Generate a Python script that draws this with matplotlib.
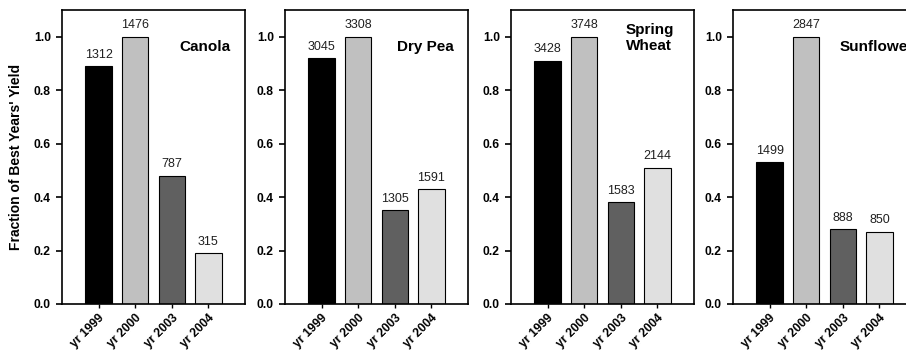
import matplotlib
matplotlib.use("Agg")
import matplotlib.pyplot as plt
from matplotlib.transforms import ScaledTranslation

plt.rcParams['font.family'] = ['Liberation Sans', 'DejaVu Sans']

years = ['yr 1999', 'yr 2000', 'yr 2003', 'yr 2004']
crops = ['Canola', 'Dry Pea', 'Spring\nWheat', 'Sunflower']

# fraction of best year's yield, and the yield numbers printed above bars
canola_frac = [0.89, 1.00, 0.48, 0.19]
canola_yield = [1312, 1476, 787, 315]
drypea_frac = [0.92, 1.00, 0.35, 0.43]
drypea_yield = [3045, 3308, 1305, 1591]
wheat_frac = [0.91, 1.00, 0.38, 0.51]
wheat_yield = [3428, 3748, 1583, 2144]
sunflower_frac = [0.53, 1.00, 0.28, 0.27]
sunflower_yield = [1499, 2847, 888, 850]

fracs = [canola_frac, drypea_frac, wheat_frac, sunflower_frac]
yields = [canola_yield, drypea_yield, wheat_yield, sunflower_yield]

bar_colors = ['#000000', '#c0c0c0', '#606060', '#e0e0e0']
# crop name placement in data coords (left edge, vertical centre)
name_pos = [(2.22, 0.96), (2.05, 0.96), (2.14, 0.995), (1.90, 0.96)]

W, H = 906, 350
fig = plt.figure(figsize=(W / 100, H / 100), dpi=100)
lefts = [62, 285, 511, 733]
for i in range(4):
    ax = fig.add_axes([lefts[i] / W, 46 / H, 183 / W, 294 / H])
    x = range(len(years))
    ax.bar(x, fracs[i], width=0.72, color=bar_colors, edgecolor='black', linewidth=0.8)
    for xi, f, v in zip(x, fracs[i], yields[i]):
        ax.text(xi, f + 0.02, str(v), ha='center', va='bottom', fontsize=9, color='#202020')
    ax.set_xlim(-1.0, 4.0)
    ax.set_ylim(0, 1.1)
    ax.set_yticks([0, 0.2, 0.4, 0.6, 0.8, 1.0])
    ax.set_yticklabels(['0.0', '0.2', '0.4', '0.6', '0.8', '1.0'], fontweight='bold', fontsize=8.7)
    ax.set_xticks(list(x))
    ax.set_xticklabels(years, rotation=45, ha='right', rotation_mode='anchor',
                       fontweight='bold', fontsize=8.7)
    shift = ScaledTranslation(3 / 100, 0, fig.dpi_scale_trans)
    for lab in ax.get_xticklabels():
        lab.set_transform(lab.get_transform() + shift)
    ax.tick_params(axis='x', length=3, width=1, direction='out', pad=3)
    ax.tick_params(axis='y', length=4, width=1.2, direction='out', pad=4)
    for s in ax.spines.values():
        s.set_linewidth(1.2)
    ax.text(name_pos[i][0], name_pos[i][1], crops[i],
            ha='left', va='center', fontsize=11, fontweight='bold')
    if i == 0:
        ax.set_ylabel("Fraction of Best Years' Yield", fontweight='bold', fontsize=10, labelpad=8)

fig.savefig('out.png', dpi=100)
